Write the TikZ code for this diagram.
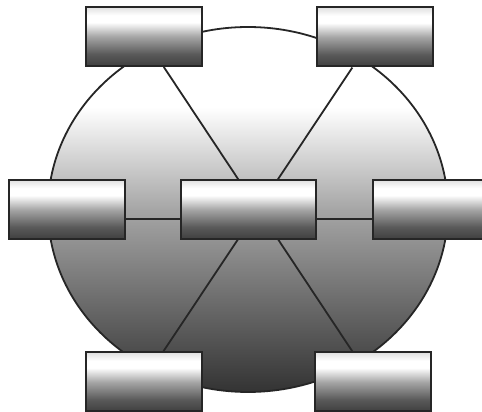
\documentclass[tikz,border=0pt]{standalone}
\usetikzlibrary{shapes.geometric}

\pgfdeclareverticalshading{boxfade}{100bp}{color(0bp)=(black!75); color(25bp)=(black!75);
  color(35bp)=(black!65); color(50bp)=(black!35); color(62bp)=(white); color(68bp)=(white); color(75bp)=(black!12); color(100bp)=(black!12)}
\pgfdeclareverticalshading{discfade}{100bp}{color(0bp)=(black!80); color(25bp)=(black!80);
  color(50bp)=(black!35); color(64bp)=(white); color(75bp)=(white); color(100bp)=(white)}

\begin{document}
\begin{tikzpicture}[
    x=1pt, y=1pt,
    box/.style={draw=black!85, line width=2pt, shading=boxfade, minimum width=116pt, minimum height=59pt, inner sep=0pt},
    link/.style={draw=black!85, line width=1.8pt}
]
\useasboundingbox (0,0) rectangle (482,412);

% big disc behind everything
\node[ellipse, draw=black!85, line width=1.8pt, shading=discfade,
      minimum width=400pt, minimum height=365pt, inner sep=0pt] (disc) at (248,202.5) {};

\node[box] (nw) at (144,375.5) {};
\node[box] (ne) at (374.5,375) {};
\node[box] (w)  at (66.5,202.5) {};
\node[box] (e)  at (431,202.5) {};
\node[box] (sw) at (143.5,30) {};
\node[box] (se) at (373,30) {};

% links pass behind the hub
\draw[link] (nw.-57) -- (se.124);
\draw[link] (ne.-126) -- (sw.57);
\draw[link] (w.-9) -- (e.189);

\node[box, minimum width=135pt] (hub) at (248.5,202.5) {};
\end{tikzpicture}
\end{document}
